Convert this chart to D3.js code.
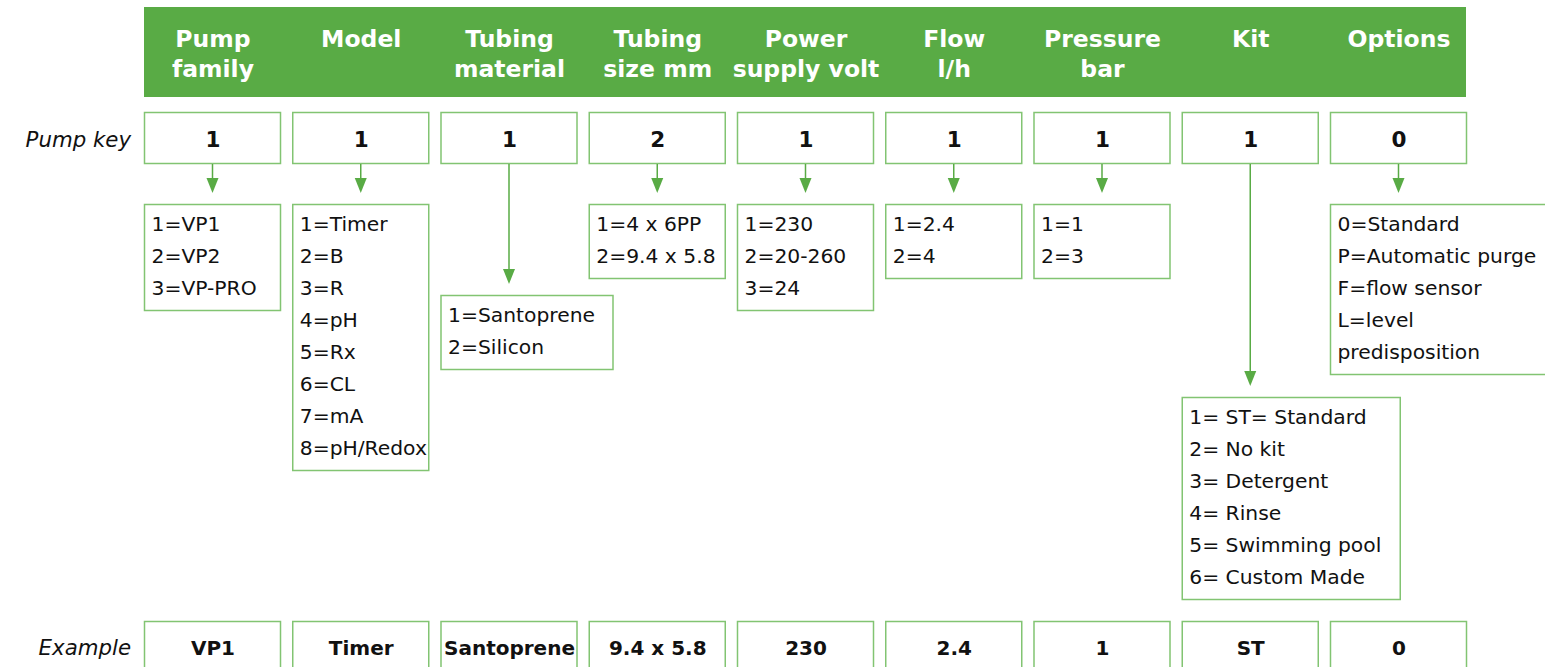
<!DOCTYPE html>
<html><head><meta charset="utf-8">
<script src="https://cdn.jsdelivr.net/npm/d3@7"></script>
<style>html,body{margin:0;padding:0;background:#fff;overflow:hidden}</style>
</head><body>
<svg id="c" width="1545" height="667"></svg>
<script>
// ---- data ----
const headers = [["Pump","family"],["Model"],["Tubing","material"],["Tubing","size mm"],["Power","supply volt"],["Flow","l/h"],["Pressure","bar"],["Kit"],["Options"]];
const pumpKey = ["1","1","1","2","1","1","1","1","0"];
const example = ["VP1","Timer","Santoprene","9.4 x 5.8","230","2.4","1","ST","0"];
const opts1 = ["1=VP1","2=VP2","3=VP-PRO"];
const opts2 = ["1=Timer","2=B","3=R","4=pH","5=Rx","6=CL","7=mA","8=pH/Redox"];
const opts3 = ["1=Santoprene","2=Silicon"];
const opts4 = ["1=4 x 6PP","2=9.4 x 5.8"];
const opts5 = ["1=230","2=20-260","3=24"];
const opts6 = ["1=2.4","2=4"];
const opts7 = ["1=1","2=3"];
const opts8 = ["1= ST= Standard","2= No kit","3= Detergent","4= Rinse","5= Swimming pool","6= Custom Made"];
const opts9 = ["0=Standard","P=Automatic purge","F=flow sensor","L=level","predisposition"];
const options = [opts1,opts2,opts3,opts4,opts5,opts6,opts7,opts8,opts9];

// ---- layout (not data) ----
const descTop = [204,204,295,204,204,204,204,397,204];
const descWidth = [136,136,172,136,136,136,136,218,216];
const GREEN = "#59ab45", BOX = "#82c472";
const FONT = "'DejaVu Sans', Verdana, sans-serif";

const svg = d3.select("#c");
const idx = d3.range(headers.length);
const x = d3.scaleBand().domain(idx).range([144,1466]).paddingInner(0.0826).paddingOuter(0);
const bw = x.bandwidth();
const lineH = 32;

// header band
svg.append("rect").attr("x",144).attr("y",7).attr("width",1322).attr("height",90).attr("fill",GREEN);
const hg = svg.append("g").selectAll("text").data(idx).join("text")
  .attr("x",i=>x(i)+bw/2+1).attr("y",47)
  .attr("text-anchor","middle").attr("font-family",FONT).attr("font-weight","bold")
  .attr("font-size",23.5).attr("fill","#fff");
hg.selectAll("tspan").data(i=>headers[i]).join("tspan")
  .attr("x",function(){return d3.select(this.parentNode).attr("x");})
  .attr("dy",(d,j)=>j===0?0:30).text(d=>d);

// row labels
svg.append("text").attr("x",131).attr("y",147).attr("text-anchor","end")
  .attr("font-family",FONT).attr("font-style","italic").attr("font-size",21.3).attr("fill","#111").text("Pump key");
svg.append("text").attr("x",131).attr("y",655).attr("text-anchor","end")
  .attr("font-family",FONT).attr("font-style","italic").attr("font-size",21.3).attr("fill","#111").text("Example");

// key boxes
function valueRow(vals, top, h, baseline, fs){
  const g = svg.append("g");
  g.selectAll("rect").data(idx).join("rect")
    .attr("x",i=>x(i)+0.5).attr("y",top+0.5).attr("width",bw).attr("height",h)
    .attr("fill","#fff").attr("stroke",BOX).attr("stroke-width",1.5);
  g.selectAll("text").data(idx).join("text")
    .attr("x",i=>x(i)+bw/2+1).attr("y",baseline).attr("text-anchor","middle")
    .attr("font-family",FONT).attr("font-weight","bold").attr("font-size",fs).attr("fill","#111")
    .text(i=>vals[i]);
}
valueRow(pumpKey,112,51,147,21.5);
valueRow(example,621,60,655,20);

// arrows
const ag = svg.append("g");
idx.forEach(i=>{
  const cx = x(i)+bw/2+0.5;
  const tip = descTop[i]-11;
  ag.append("line").attr("x1",cx).attr("x2",cx).attr("y1",164).attr("y2",tip-14)
    .attr("stroke",GREEN).attr("stroke-width",1.5);
  ag.append("path").attr("d",`M${cx-6},${tip-15}L${cx+6},${tip-15}L${cx},${tip}Z`).attr("fill",GREEN);
});

// description boxes
const dg = svg.append("g").selectAll("g").data(idx).join("g");
dg.append("rect")
  .attr("x",i=>x(i)+0.5).attr("y",i=>descTop[i]+0.5)
  .attr("width",i=>descWidth[i]).attr("height",i=>options[i].length*lineH+10)
  .attr("fill","#fff").attr("stroke",BOX).attr("stroke-width",1.5);
dg.each(function(i){
  d3.select(this).selectAll("text").data(options[i]).join("text")
    .attr("x",x(i)+7.5).attr("y",(d,j)=>descTop[i]+27+j*lineH)
    .attr("font-family",FONT).attr("font-size",20.3).attr("fill","#111").text(d=>d);
});
</script>
</body></html>
